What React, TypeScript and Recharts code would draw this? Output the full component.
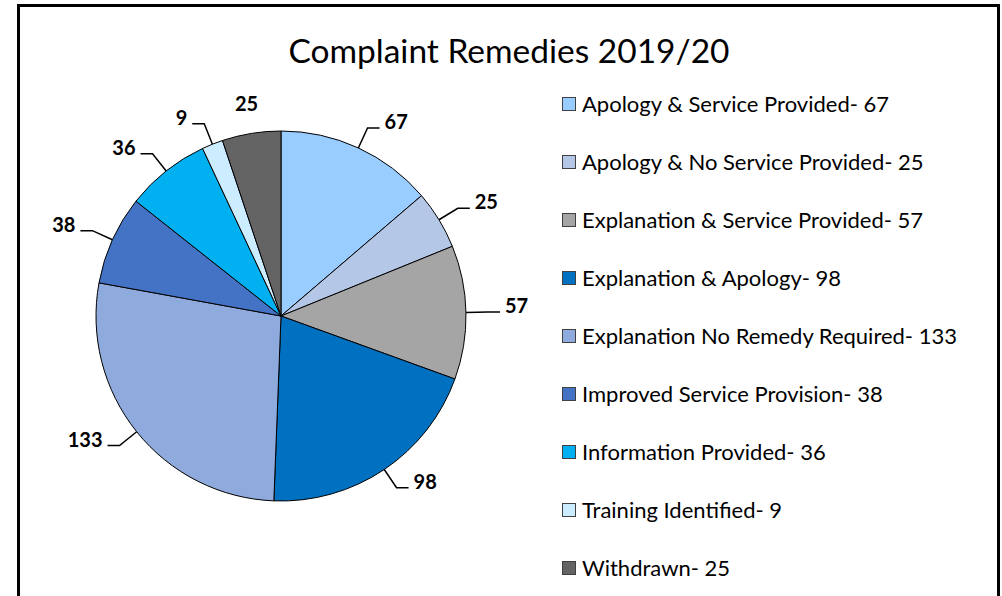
import React from 'react';
import { PieChart, Pie, Cell, Legend } from 'recharts';

const categories = [
  'Apology & Service Provided',
  'Apology & No Service Provided',
  'Explanation & Service Provided',
  'Explanation & Apology',
  'Explanation No Remedy Required',
  'Improved Service Provision',
  'Information Provided',
  'Training Identified',
  'Withdrawn',
];
const values = [67, 25, 57, 98, 133, 38, 36, 9, 25];
const colors = ['#99CCFF', '#B4C7E7', '#A5A5A5', '#0070C0', '#8FAADC', '#4472C4', '#00B0F0', '#CCECFF', '#646464'];
const title = 'Complaint Remedies 2019/20';

const data = categories.map((name, i) => ({ name, value: values[i], fill: colors[i] }));

const FONT = 'Lato, "Noto Sans", sans-serif';
const RAD = Math.PI / 180;

const renderLabel = (props: any) => {
  const { cx, cy, midAngle, outerRadius, value } = props;
  const c = Math.cos(-midAngle * RAD);
  const s = Math.sin(-midAngle * RAD);
  const sx = cx + outerRadius * c;
  const sy = cy + outerRadius * s;
  if (Math.abs(c) < 0.2 && s < 0) {
    const r = outerRadius + 30;
    return (
      <text x={cx + r * c} y={cy + r * s + 7} textAnchor="middle"
        fontFamily={FONT} fontWeight={700} fontSize={20} fill="#000">{value}</text>
    );
  }
  const ex = cx + (outerRadius + 22) * c;
  const ey = cy + (outerRadius + 22) * s;
  const dir = c >= 0 ? 1 : -1;
  const hx = ex + dir * 12;
  return (
    <g>
      <path d={`M${sx},${sy}L${ex},${ey}L${hx},${ey}`} stroke="#000" strokeWidth={1.5} fill="none" />
      <text x={hx + dir * 5} y={ey + 1} textAnchor={dir > 0 ? 'start' : 'end'}
        fontFamily={FONT} fontWeight={700} fontSize={20} fill="#000">{value}</text>
    </g>
  );
};

const renderLegend = () => (
  <svg width={430} height={500} style={{ overflow: 'visible', display: 'block' }}>
    {data.map((d, i) => {
      const y = i * 58;
      return (
        <g key={d.name}>
          <rect x={0.5} y={y - 6.5} width={13} height={13} fill={d.fill} stroke="#404040" strokeWidth={1} />
          <text x={20} y={y + 7.7} fontFamily={FONT} fontSize={22} fill="#000">
            {`${d.name}- ${d.value}`}
          </text>
        </g>
      );
    })}
  </svg>
);

export default function App() {
  return (
    <div style={{ position: 'absolute', left: 0, top: 0, width: 1002, height: 596, overflow: 'hidden', background: '#fff' }}>
      <div style={{ position: 'absolute', left: 17, top: 4, width: 977, height: 620, border: '3px solid #000' }} />
      <div style={{ position: 'absolute', left: 0, top: 30, width: 1018, textAlign: 'center', fontFamily: FONT, fontSize: 33.5, color: '#000', lineHeight: '40px', whiteSpace: 'nowrap' }}>
        {title}
      </div>
      <div style={{ position: 'absolute', left: 0, top: 0 }}>
        <PieChart width={1002} height={596} margin={{ top: 0, right: 0, bottom: 0, left: 0 }}>
          <Pie
            data={data}
            dataKey="value"
            nameKey="name"
            cx={281}
            cy={316}
            outerRadius={185}
            startAngle={90}
            endAngle={-270}
            stroke="#000"
            strokeWidth={1}
            label={renderLabel}
            labelLine={false}
            isAnimationActive={false}
          >
            {data.map((d) => (
              <Cell key={d.name} fill={d.fill} />
            ))}
          </Pie>
          <Legend content={renderLegend} wrapperStyle={{ position: 'absolute', left: 562, top: 104, width: 430, height: 500 }} />
        </PieChart>
      </div>
    </div>
  );
}
